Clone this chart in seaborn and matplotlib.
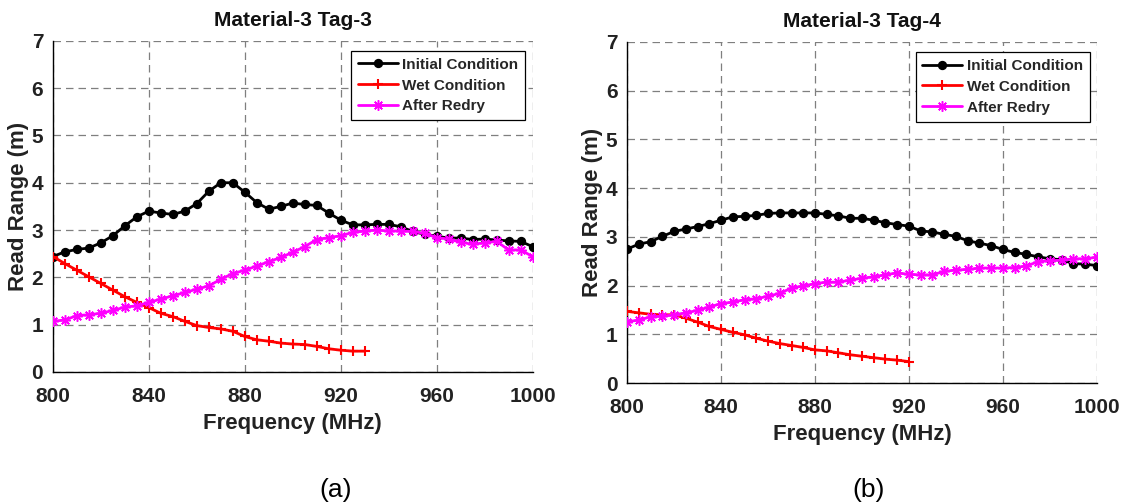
import numpy as np
import pandas as pd
import matplotlib
matplotlib.use("Agg")
import matplotlib.pyplot as plt
import seaborn as sns

# Frequency sweeps (MHz)
freq_full = list(range(800, 1001, 5))
freq_wet_a = list(range(800, 931, 5))
freq_wet_b = list(range(800, 921, 5))

# Material-3 Tag-3 read range (m)
tag3_initial = [2.44, 2.54, 2.59, 2.62, 2.73, 2.88, 3.09, 3.28, 3.40, 3.36,
                3.33, 3.40, 3.56, 3.82, 4.00, 4.00, 3.80, 3.58, 3.44, 3.50,
                3.57, 3.54, 3.52, 3.36, 3.21, 3.11, 3.11, 3.12, 3.12, 3.07,
                2.97, 2.91, 2.87, 2.83, 2.83, 2.80, 2.81, 2.79, 2.77, 2.76,
                2.65]
tag3_wet = [2.44, 2.29, 2.15, 2.01, 1.87, 1.73, 1.59, 1.47, 1.36, 1.24,
            1.17, 1.07, 0.98, 0.94, 0.91, 0.86, 0.75, 0.68, 0.65, 0.61,
            0.59, 0.58, 0.54, 0.49, 0.46, 0.44, 0.44]
tag3_redry = [1.07, 1.10, 1.19, 1.21, 1.24, 1.30, 1.37, 1.40, 1.47, 1.54,
              1.61, 1.68, 1.75, 1.82, 1.96, 2.08, 2.15, 2.24, 2.33, 2.42,
              2.53, 2.65, 2.80, 2.84, 2.88, 2.95, 2.98, 3.00, 2.98, 2.98,
              2.97, 2.93, 2.84, 2.81, 2.74, 2.70, 2.73, 2.76, 2.58, 2.58,
              2.44]

# Material-3 Tag-4 read range (m)
tag4_initial = [2.75, 2.85, 2.90, 3.01, 3.11, 3.16, 3.21, 3.27, 3.34, 3.41,
                3.42, 3.44, 3.48, 3.49, 3.49, 3.49, 3.49, 3.46, 3.43, 3.38,
                3.38, 3.34, 3.29, 3.25, 3.22, 3.12, 3.10, 3.05, 3.01, 2.92,
                2.87, 2.82, 2.74, 2.68, 2.64, 2.59, 2.55, 2.53, 2.45, 2.44,
                2.41]
tag4_wet = [1.47, 1.44, 1.41, 1.40, 1.40, 1.33, 1.25, 1.16, 1.10, 1.04,
            0.99, 0.92, 0.86, 0.81, 0.77, 0.73, 0.68, 0.66, 0.62, 0.58,
            0.55, 0.52, 0.49, 0.47, 0.44]
tag4_redry = [1.26, 1.29, 1.36, 1.37, 1.40, 1.44, 1.49, 1.56, 1.63, 1.66,
              1.71, 1.73, 1.78, 1.84, 1.95, 1.99, 2.04, 2.07, 2.07, 2.11,
              2.15, 2.18, 2.22, 2.26, 2.23, 2.22, 2.22, 2.29, 2.32, 2.33,
              2.36, 2.36, 2.36, 2.37, 2.40, 2.49, 2.51, 2.52, 2.55, 2.55,
              2.58]

series_names = ["Initial Condition", "Wet Condition", "After Redry"]
panel_titles = ["Material-3 Tag-3", "Material-3 Tag-4"]
panel_tags = ["(a)", "(b)"]
x_ticks = [800, 840, 880, 920, 960, 1000]
y_ticks = [0, 1, 2, 3, 4, 5, 6, 7]

sns.set_style("white")
plt.rcParams["font.family"] = ["Liberation Sans", "DejaVu Sans"]

colors = {"Initial Condition": "black", "Wet Condition": "#ff0000",
          "After Redry": "#ff00ff"}
markers = {"Initial Condition": "o", "Wet Condition": "+",
           "After Redry": (8, 2, 0)}
msizes = {"Initial Condition": 5.5, "Wet Condition": 7.5, "After Redry": 7.5}
mew = {"Initial Condition": 1.2, "Wet Condition": 1.5, "After Redry": 1.1}


def make_frame(initial, wet, redry, f_wet):
    parts = [
        pd.DataFrame({"freq": freq_full, "range": initial, "cond": series_names[0]}),
        pd.DataFrame({"freq": f_wet, "range": wet, "cond": series_names[1]}),
        pd.DataFrame({"freq": freq_full, "range": redry, "cond": series_names[2]}),
    ]
    return pd.concat(parts, ignore_index=True)


frames = [make_frame(tag3_initial, tag3_wet, tag3_redry, freq_wet_a),
          make_frame(tag4_initial, tag4_wet, tag4_redry, freq_wet_b)]

fig = plt.figure(figsize=(11.26, 5.04), dpi=100)
ax_rects = [[0.047, 0.262, 0.426, 0.657], [0.557, 0.240, 0.417, 0.677]]
tag_x = [0.298, 0.771]

for i, df in enumerate(frames):
    ax = fig.add_axes(ax_rects[i])
    for name in series_names:
        sub = df[df["cond"] == name]
        sns.lineplot(data=sub, x="freq", y="range", ax=ax, color=colors[name],
                     marker=markers[name], markersize=msizes[name],
                     markeredgecolor=colors[name], markerfacecolor=colors[name],
                     markeredgewidth=mew[name], linewidth=2.0, label=name,
                     estimator=None, sort=False, zorder=3)
    ax.set_xlim(800, 1000)
    ax.set_ylim(0, 7)
    ax.set_xticks(x_ticks)
    ax.set_yticks(y_ticks)
    ax.grid(True, linestyle=(0, (6, 4)), color="#7f7f7f", linewidth=0.9)
    ax.spines["top"].set_visible(False)
    ax.spines["right"].set_visible(False)
    for s in ["left", "bottom"]:
        ax.spines[s].set_color("black")
        ax.spines[s].set_linewidth(1.0)
    ax.tick_params(direction="in", length=4, width=0.8, colors="#222222",
                   labelsize=15)
    ax.tick_params(axis="x", pad=11)
    ax.tick_params(axis="y", pad=7)
    for lab in ax.get_xticklabels() + ax.get_yticklabels():
        lab.set_fontweight("bold")
    ax.set_xlabel("Frequency (MHz)", fontsize=16, fontweight="bold",
                  color="#222222", labelpad=5)
    ax.set_ylabel("Read Range (m)", fontsize=16, fontweight="bold",
                  color="#222222", labelpad=2)
    ax.set_title(panel_titles[i], fontsize=15, fontweight="bold",
                 color="#111111", pad=11)
    leg = ax.legend(loc="upper right", bbox_to_anchor=(0.985, 0.97),
                    fontsize=11, frameon=True, fancybox=False,
                    handlelength=2.6, handletextpad=0.3, borderpad=0.45,
                    labelspacing=0.45, borderaxespad=0.0)
    leg.get_frame().set_edgecolor("black")
    leg.get_frame().set_linewidth(0.9)
    leg.get_frame().set_alpha(1.0)
    for t in leg.get_texts():
        t.set_fontweight("bold")
    fig.text(tag_x[i], 0.004, panel_tags[i], fontsize=19, ha="center",
             va="bottom", color="black")

fig.savefig("out.png", dpi=100)
